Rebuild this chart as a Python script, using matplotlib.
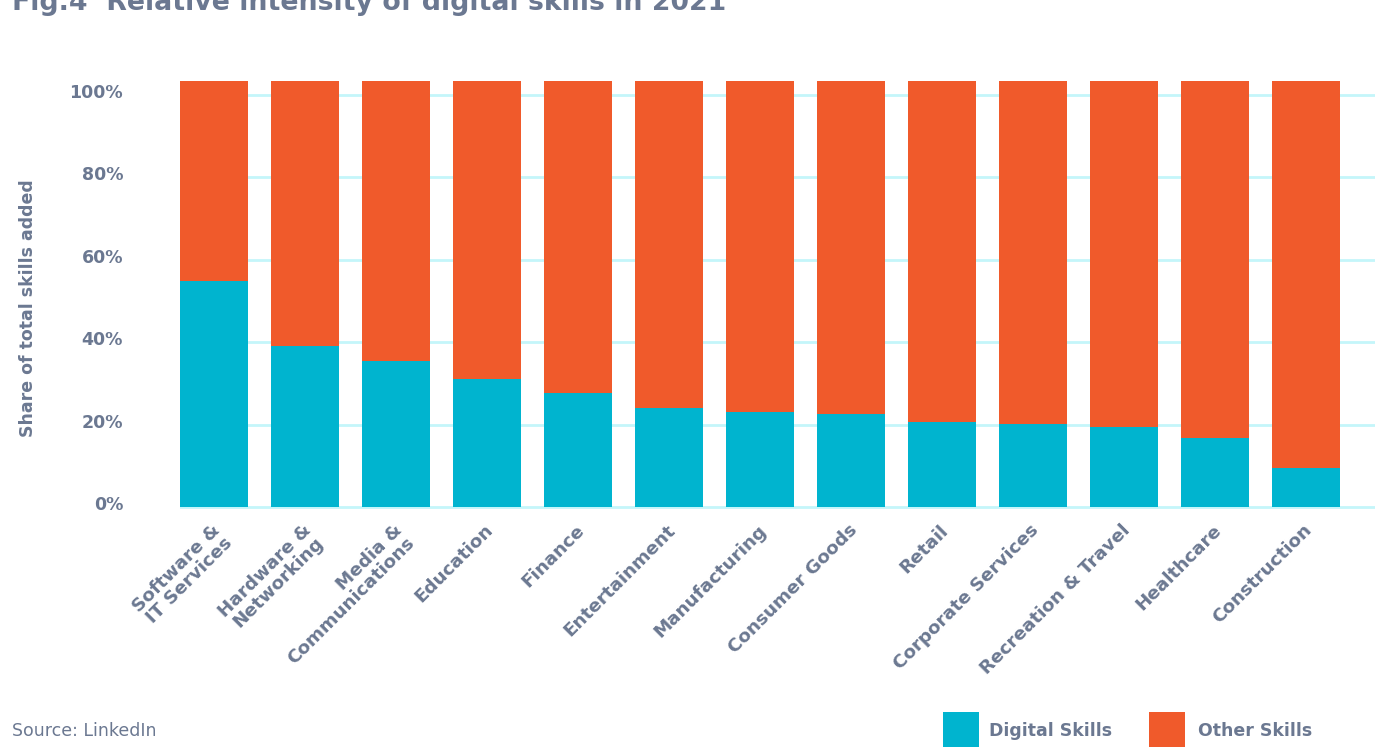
import matplotlib
matplotlib.use("Agg")
import matplotlib.pyplot as plt
import matplotlib.transforms as mtransforms
from matplotlib.patches import Rectangle
import numpy as np

categories = ["Software &\nIT Services", "Hardware &\nNetworking", "Media &\nCommunications",
              "Education", "Finance", "Entertainment", "Manufacturing", "Consumer Goods",
              "Retail", "Corporate Services", "Recreation & Travel", "Healthcare", "Construction"]
digital = [54.9, 39.2, 35.5, 31.2, 27.6, 24.0, 23.0, 22.6, 20.6, 20.3, 19.4, 16.9, 9.6]
other = [48.4, 64.1, 67.8, 72.1, 75.7, 79.3, 80.3, 80.7, 82.7, 83.0, 83.9, 86.4, 93.7]
yticks = [0, 20, 40, 60, 80, 100]
ytick_labels = ["0%", "20%", "40%", "60%", "80%", "100%"]

CYAN = "#00B4CF"
ORANGE = "#F05A2B"
GRID = "#C4F6FA"
TXT = "#6B7891"
FONT = "DejaVu Sans"

W, H = 1384, 751
fig = plt.figure(figsize=(W / 100, H / 100), dpi=100)
ax = fig.add_axes([180 / W, (H - 511.4) / H, 1195 / W, (511.4 - 70.3) / H])

x = np.arange(len(categories))
bw = 0.747
ax.bar(x, digital, width=bw, color=CYAN, zorder=3, label="Digital Skills")
ax.bar(x, other, width=bw, bottom=digital, color=ORANGE, zorder=3, label="Other Skills")

ax.set_xlim(-bw / 2, -bw / 2 + 1195 / 91)
ax.set_ylim(-1, 106)
ax.set_yticks(yticks)
ax.set_yticklabels(ytick_labels, fontsize=12.5, fontweight="bold", color=TXT, family=FONT)
ax.yaxis.grid(True, color=GRID, linewidth=2.0, zorder=0)
ax.set_axisbelow(True)
ax.tick_params(axis="y", length=0, pad=41)
for lab in ax.get_yticklabels():
    lab.set_transform(lab.get_transform() + mtransforms.ScaledTranslation(0, 4 / 100, fig.dpi_scale_trans))

ax.set_xticks(x)
ax.set_xticklabels(categories, rotation=45, ha="right", va="top", rotation_mode="anchor",
                   multialignment="right", fontsize=13.2, fontweight="bold", color=TXT,
                   family=FONT, linespacing=1.0)
ax.tick_params(axis="x", length=0, pad=7)
for lab in ax.get_xticklabels():
    lab.set_transform(lab.get_transform() + mtransforms.ScaledTranslation(-3 / 100, 0, fig.dpi_scale_trans))

for s in ax.spines.values():
    s.set_visible(False)

ax.set_ylabel("Share of total skills added", fontsize=12.5, fontweight="bold", color=TXT, family=FONT)
ax.yaxis.set_label_coords(37 / W, (H - 308) / H, transform=fig.transFigure)

# Title (partially cut off at the top, as in the reference)
fig.text(12 / W, (H - 10) / H, "Fig.4  Relative intensity of digital skills in 2021", fontsize=19.3,
         fontweight="bold", color=TXT, family=FONT, ha="left", va="baseline")

fig.text(12 / W, (H - 731) / H, "Source: LinkedIn", fontsize=12.5, color=TXT, family=FONT,
         ha="left", va="center")

# Legend
handles, labels = ax.get_legend_handles_labels()
for (hx, tx), h, l in zip([(943, 989), (1149, 1198)], handles, labels):
    fig.patches.append(Rectangle((hx / W, (H - 747) / H), 36 / W, 35 / H, transform=fig.transFigure,
                                 facecolor=h.patches[0].get_facecolor(), edgecolor="none"))
    fig.text(tx / W, (H - 731) / H, l, fontsize=12.5, fontweight="bold", color=TXT, family=FONT,
             ha="left", va="center")

fig.savefig("out.png", dpi=100)
